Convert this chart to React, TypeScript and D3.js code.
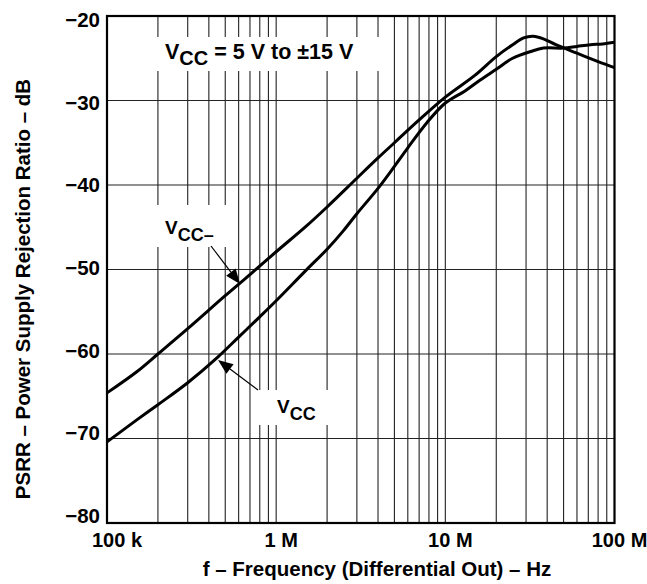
import React from "react";
import * as d3 from "d3";

const freqTicks = [1e5, 1e6, 1e7, 1e8];
const freqTickLabels = ["100 k", "1 M", "10 M", "100 M"];
const dbTicks = [-20, -30, -40, -50, -60, -70, -80];

const vccMinusF = [1e5, 1.5e5, 2e5, 3e5, 5e5, 7e5, 1e6, 1.5e6, 2e6, 3e6, 4e6, 5e6, 7e6, 1e7, 1.5e7, 2e7, 2.5e7, 2.9e7, 3.3e7, 3.8e7, 4.5e7, 6e7, 8e7, 1e8];
const vccMinusDb = [-64.6, -62.1, -60.0, -57.0, -53.1, -50.6, -47.9, -44.9, -42.6, -39.2, -36.8, -35.0, -32.3, -29.6, -27.0, -24.8, -23.4, -22.6, -22.4, -22.7, -23.4, -24.4, -25.4, -26.1];

const vccF = [1e5, 1.5e5, 2e5, 3e5, 4.5e5, 6e5, 8e5, 1e6, 1.5e6, 2e6, 2.5e6, 3e6, 4e6, 5e6, 6e6, 7.8e6, 1e7, 1.3e7, 1.6e7, 2e7, 2.5e7, 3.2e7, 3.8e7, 5e7, 6e7, 7.2e7, 8.5e7, 1e8];
const vccDb = [-70.4, -67.8, -66.0, -63.4, -60.4, -58.0, -55.6, -53.7, -50.1, -47.6, -45.4, -43.4, -40.4, -37.8, -35.6, -32.6, -30.3, -28.9, -27.6, -26.3, -25.0, -24.2, -23.8, -23.8, -23.6, -23.4, -23.3, -23.1];

const W = 647;
const H = 584;
const L = 107, R = 614.5, T = 16, B = 523;
const FONT = "'Liberation Sans', Arial, Helvetica, sans-serif";

export default function App() {
  const x = d3.scaleLog().domain([1e5, 1e8]).range([L, R]);
  const y = d3.scaleLinear().domain([-80, -20]).range([B, T]);

  const minorF: number[] = [];
  for (let e = 5; e < 8; e++) {
    for (let m = 1; m <= 9; m++) minorF.push(m * Math.pow(10, e));
  }
  minorF.push(1e8);

  const line = d3
    .line<[number, number]>()
    .x((d) => x(d[0]))
    .y((d) => y(d[1]))
    .curve(d3.curveCatmullRom.alpha(0.5));

  const vccMinus: [number, number][] = vccMinusF.map((f, i) => [f, vccMinusDb[i]]);
  const vcc: [number, number][] = vccF.map((f, i) => [f, vccDb[i]]);

  const arrow = (x1: number, y1: number, x2: number, y2: number) => {
    const a = Math.atan2(y2 - y1, x2 - x1);
    const len = 15, hw = 6;
    const bx = x2 - len * Math.cos(a), by = y2 - len * Math.sin(a);
    const p1 = [bx + hw * Math.sin(a), by - hw * Math.cos(a)];
    const p2 = [bx - hw * Math.sin(a), by + hw * Math.cos(a)];
    return (
      <g>
        <line x1={x1} y1={y1} x2={bx} y2={by} stroke="#000" strokeWidth={1.2} />
        <polygon points={`${x2},${y2} ${p1[0]},${p1[1]} ${p2[0]},${p2[1]}`} fill="#000" />
      </g>
    );
  };

  return (
    <svg width={W} height={H} style={{ position: "absolute", left: 0, top: 0, background: "#fff" }} fontFamily={FONT} fontWeight="bold">
      <rect x={0} y={0} width={W} height={H} fill="#fff" />
      {minorF.map((f, i) => (
        <line key={"v" + i} x1={x(f)} x2={x(f)} y1={T} y2={B} stroke="#222" strokeWidth={1.1} />
      ))}
      {dbTicks.map((v) => (
        <line key={"h" + v} x1={L} x2={R} y1={y(v)} y2={y(v)} stroke="#222" strokeWidth={1.1} />
      ))}
      {/* label boxes */}
      <rect x={150} y={37} width={238} height={34} fill="#fff" />
      <rect x={150} y={205} width={85} height={42} fill="#fff" />
      <rect x={255} y={390} width={85} height={35} fill="#fff" />

      <path d={line(vccMinus) || ""} fill="none" stroke="#000" strokeWidth={3} strokeLinejoin="round" />
      <path d={line(vcc) || ""} fill="none" stroke="#000" strokeWidth={3} strokeLinejoin="round" />

      <rect x={L} y={T} width={R - L} height={B - T} fill="none" stroke="#000" strokeWidth={2.2} />

      {dbTicks.map((v) => (
        <text key={"yl" + v} x={100} y={y(v) + (11 * (v + 80)) / 60} textAnchor="end" fontSize={20.5}>
          {"\u2212" + Math.abs(v)}
        </text>
      ))}
      {freqTicks.map((f, i) => (
        <text key={"xl" + i} x={x(f) + (i === 0 ? 10 : 5)} y={547} textAnchor="middle" fontSize={20}>
          {freqTickLabels[i]}
        </text>
      ))}

      <text x={377} y={576} textAnchor="middle" fontSize={20.5}>
        f – Frequency (Differential Out) – Hz
      </text>
      <text transform={`translate(30,289) rotate(-90)`} textAnchor="middle" fontSize={20.5}>
        PSRR – Power Supply Rejection Ratio – dB
      </text>

      <text x={165} y={59} fontSize={21.5}>
        V<tspan dy={6} fontSize={20}>CC</tspan>
        <tspan dy={-6}> = 5 V to ±15 V</tspan>
      </text>
      <text x={165} y={234} fontSize={19}>
        V<tspan dy={7} fontSize={18}>CC–</tspan>
      </text>
      <text x={277} y={413} fontSize={19}>
        V<tspan dy={7} fontSize={18}>CC</tspan>
      </text>

      {arrow(211, 246, 240, 284)}
      {arrow(258, 390, 218, 360)}
    </svg>
  );
}
